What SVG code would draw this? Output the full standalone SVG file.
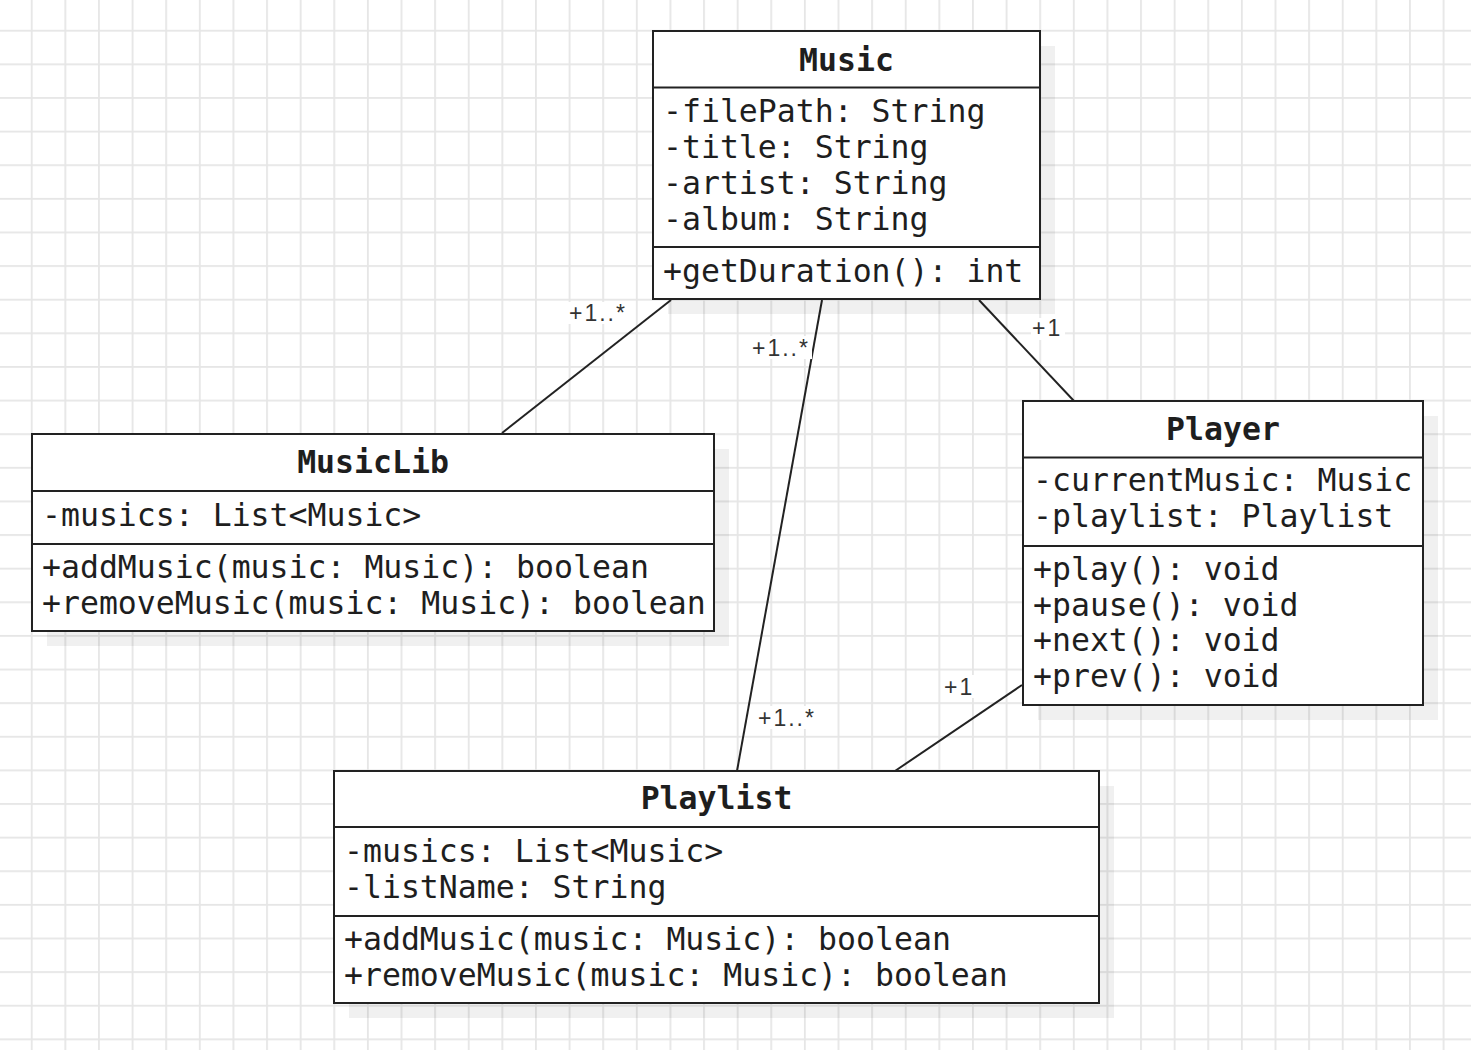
<svg xmlns="http://www.w3.org/2000/svg" width="1471" height="1050" viewBox="0 0 1471 1050">
<style>
.box{fill:#fff;stroke:#222;stroke-width:2}
.shadow{fill:#000;fill-opacity:0.06}
.div{stroke:#222;stroke-width:2}
.t{font-family:"DejaVu Sans Mono","Liberation Mono",monospace;font-size:31.5px;fill:#1e1e1e}
.h{font-weight:bold;text-anchor:middle}
.conn{stroke:#222;stroke-width:2;fill:none}
.lbl{font-family:"Liberation Sans",Arial,sans-serif;font-size:23px;fill:#333;letter-spacing:2px}
.lblbg{fill:#fff}
</style>
<defs>
<pattern id="grid" patternUnits="userSpaceOnUse" x="30.8" y="29.8" width="33.615" height="33.62">
<rect x="0" y="0" width="1.8" height="33.62" fill="#e6e6e6"/>
<rect x="0" y="0" width="33.615" height="1.8" fill="#e6e6e6"/>
</pattern>
</defs>
<rect width="1471" height="1050" fill="#fff"/>
<rect width="1471" height="1050" fill="url(#grid)"/>

<g id="connectors">
<line class="conn" x1="502" y1="433" x2="671" y2="300"/>
<line class="conn" x1="822" y1="300" x2="737" y2="771"/>
<line class="conn" x1="979" y1="300" x2="1074" y2="401"/>
<line class="conn" x1="895" y1="771" x2="1022" y2="685"/>
<rect class="lblbg" x="568" y="302" width="61" height="22"/>
<text class="lbl" x="569" y="321">+1..*</text>
<rect class="lblbg" x="751" y="336" width="61" height="23"/>
<text class="lbl" x="752" y="356">+1..*</text>
<rect class="lblbg" x="757" y="706" width="61" height="23"/>
<text class="lbl" x="758" y="726">+1..*</text>
<rect class="lblbg" x="1031" y="318" width="34" height="22"/>
<text class="lbl" x="1032" y="336">+1</text>
<rect class="lblbg" x="943" y="675" width="34" height="23"/>
<text class="lbl" x="944" y="695">+1</text>
</g>

<g id="music">
<rect class="shadow" x="668" y="46" width="387" height="268"/>
<rect class="box" x="653" y="31" width="387" height="268"/>
<line class="div" x1="653" y1="87.5" x2="1040" y2="87.5"/>
<line class="div" x1="653" y1="247" x2="1040" y2="247"/>
<text class="t h" x="846.5" y="70.5">Music</text>
<text class="t" x="663" y="122">-filePath: String</text>
<text class="t" x="663" y="158">-title: String</text>
<text class="t" x="663" y="194">-artist: String</text>
<text class="t" x="663" y="229.5">-album: String</text>
<text class="t" x="663" y="282">+getDuration(): int</text>
</g>

<g id="musiclib">
<rect class="shadow" x="47" y="449" width="682" height="197"/>
<rect class="box" x="32" y="434" width="682" height="197"/>
<line class="div" x1="32" y1="491" x2="714" y2="491"/>
<line class="div" x1="32" y1="544" x2="714" y2="544"/>
<text class="t h" x="373" y="473">MusicLib</text>
<text class="t" x="42" y="525.5">-musics: List&lt;Music&gt;</text>
<text class="t" x="42" y="577.5">+addMusic(music: Music): boolean</text>
<text class="t" x="42" y="613.5">+removeMusic(music: Music): boolean</text>
</g>

<g id="player">
<rect class="shadow" x="1038" y="416" width="400" height="304"/>
<rect class="box" x="1023" y="401" width="400" height="304"/>
<line class="div" x1="1023" y1="457.5" x2="1423" y2="457.5"/>
<line class="div" x1="1023" y1="546" x2="1423" y2="546"/>
<text class="t h" x="1223" y="439.5">Player</text>
<text class="t" x="1033" y="491">-currentMusic: Music</text>
<text class="t" x="1033" y="527">-playlist: Playlist</text>
<text class="t" x="1033" y="579.5">+play(): void</text>
<text class="t" x="1033" y="615.5">+pause(): void</text>
<text class="t" x="1033" y="651">+next(): void</text>
<text class="t" x="1033" y="687">+prev(): void</text>
</g>

<g id="playlist">
<rect class="shadow" x="349" y="786" width="765" height="232"/>
<rect class="box" x="334" y="771" width="765" height="232"/>
<line class="div" x1="334" y1="827" x2="1099" y2="827"/>
<line class="div" x1="334" y1="916" x2="1099" y2="916"/>
<text class="t h" x="716.5" y="808.5">Playlist</text>
<text class="t" x="344" y="862">-musics: List&lt;Music&gt;</text>
<text class="t" x="344" y="897.5">-listName: String</text>
<text class="t" x="344" y="950">+addMusic(music: Music): boolean</text>
<text class="t" x="344" y="985.5">+removeMusic(music: Music): boolean</text>
</g>
</svg>
